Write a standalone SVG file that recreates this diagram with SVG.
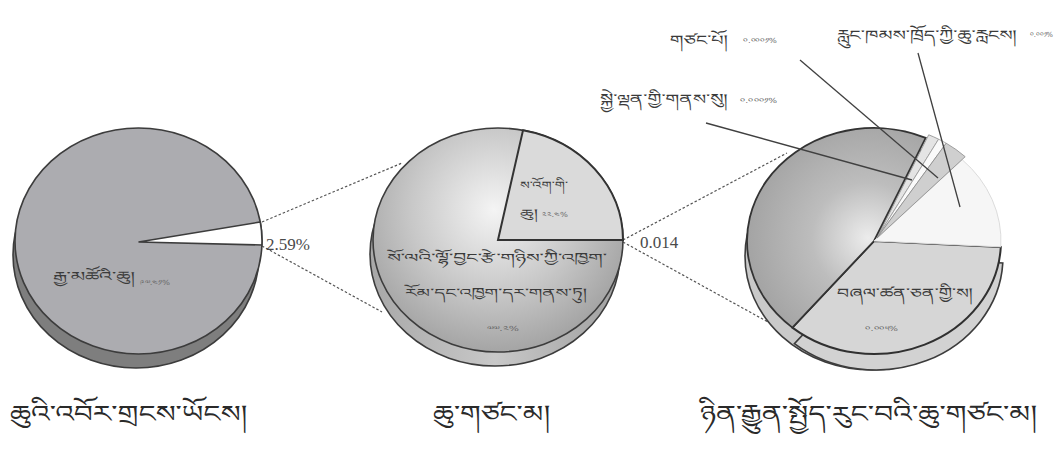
<svg xmlns="http://www.w3.org/2000/svg" width="1061" height="455" viewBox="0 0 1061 455">
<style>
.rim{stroke:#3c3c3c;stroke-width:1.6}
.dot{fill:none;stroke:#555;stroke-width:1.2;stroke-dasharray:2.5 2}
.lead{fill:none;stroke:#404040;stroke-width:1.3}
.tb{font-family:"Noto Sans Tibetan","Noto Serif Tibetan",Jomolhari,"DejaVu Sans","Noto Sans",sans-serif;fill:#3a3a3a}
.num{font-family:"Noto Sans Tibetan","DejaVu Sans","Noto Sans",sans-serif;fill:#666;font-size:7px}
.lat{font-family:"Liberation Serif","Times New Roman",serif;fill:#4a4a4a;font-size:17px}
.cap{font-family:"Noto Sans Tibetan","Noto Serif Tibetan",Jomolhari,"DejaVu Sans","Noto Sans",sans-serif;fill:#2a2a2a;font-size:24px}
</style>
<defs>
<radialGradient id="gMid" gradientUnits="userSpaceOnUse" cx="494" cy="210" r="150">
<stop offset="0" stop-color="#f4f4f4"/>
<stop offset="0.55" stop-color="#c8c8c8"/>
<stop offset="1" stop-color="#a0a0a0"/>
</radialGradient>
<radialGradient id="gDark" gradientUnits="userSpaceOnUse" cx="868" cy="238" r="140">
<stop offset="0" stop-color="#ececec"/>
<stop offset="0.4" stop-color="#bdbdbd"/>
<stop offset="1" stop-color="#9c9c9c"/>
</radialGradient>
<linearGradient id="gSide" x1="0" y1="0" x2="1" y2="0">
<stop offset="0" stop-color="#a8a8a8"/>
<stop offset="0.5" stop-color="#c8c8c8"/>
<stop offset="1" stop-color="#a0a0a0"/>
</linearGradient>
</defs>
<rect width="1061" height="455" fill="#fff"/>

<g id="connectors">
<line class="dot" x1="262" y1="222" x2="402" y2="163"/>
<line class="dot" x1="262" y1="246" x2="382" y2="312"/>
<line class="dot" x1="623" y1="240" x2="787" y2="153"/>
<line class="dot" x1="623" y1="242" x2="768" y2="322"/>
</g>

<g id="pie-total">
<ellipse class="rim" cx="136" cy="255" rx="123" ry="113" fill="#7e7e7e"/>
<ellipse class="rim" cx="138.5" cy="241" rx="123.5" ry="113" fill="#acacb0"/>
<path class="rim" d="M138.5,242 L260.3,222 A123.5,113 0 0 1 261.9,245 Z" fill="#fff"/>
<text class="tb" x="53" y="281" font-size="13" textLength="82" lengthAdjust="spacingAndGlyphs">རྒྱ་མཚོའི་ཆུ།</text>
<text class="num" x="140" y="285" textLength="30" lengthAdjust="spacingAndGlyphs">༩༧.༤༡%</text>
<text class="lat" x="266" y="250">2.59%</text>
</g>

<g id="pie-fresh">
<ellipse class="rim" cx="495" cy="254" rx="125" ry="112" fill="url(#gSide)"/>
<ellipse class="rim" cx="498" cy="240" rx="125" ry="112" fill="url(#gMid)"/>
<path d="M498,240 L523,130.3 A125,112 0 0 1 623,240 Z" fill="#dadada" stroke="#333" stroke-width="2"/>
<text class="tb" x="520" y="189" font-size="11" textLength="48" lengthAdjust="spacingAndGlyphs">ས་འོག་གི་</text>
<text class="tb" x="520" y="217" font-size="11" textLength="18" lengthAdjust="spacingAndGlyphs">ཆུ།</text>
<text class="num" x="542" y="217" textLength="26" lengthAdjust="spacingAndGlyphs">༢༢.༤%</text>
<text class="tb" x="387" y="262" font-size="12" textLength="220" lengthAdjust="spacingAndGlyphs">སོ་ལའི་ལྷོ་བྱང་རྩེ་གཉིས་ཀྱི་འཁྱག་</text>
<text class="tb" x="405" y="297" font-size="12" textLength="182" lengthAdjust="spacingAndGlyphs">རོམ་དང་འཁྱག་དར་གནས་ཏུ།</text>
<text class="num" x="487" y="331" textLength="32" lengthAdjust="spacingAndGlyphs">༧༧.༢%</text>
</g>

<text class="lat" x="640" y="248">0.014</text>

<g id="pie-usable">
<ellipse class="rim" cx="872" cy="256" rx="127" ry="114" fill="#c9c9c9"/>
<path class="rim" d="M876,245 L1002.8,250.9 A127,113 0 0 1 794.4,331.6 Z" fill="#d2d2d2" transform="translate(0,12)"/>
<path d="M874,241 L1000.8,246.9 A127,113 0 0 1 792.4,327.6 Z" fill="#d6d6d6" stroke="#303030" stroke-width="2"/>
<path d="M874,241 L792.4,327.6 A127,113 0 0 1 925.7,137.8 Z" fill="url(#gDark)" stroke="#333" stroke-width="1.8"/>
<path d="M874,241 L962.2,159.7 A127,113 0 0 1 1000.8,246.9 Z" fill="#f6f6f6" stroke="#dcdcdc" stroke-width="1"/>
<g transform="translate(3,-3)">
<path d="M874,241 L925.7,137.8 A127,113 0 0 1 935.6,142.2 Z" fill="#e4e4e4" stroke="#8a8a8a" stroke-width="0.8"/>
<path d="M874,241 L935.6,142.2 A127,113 0 0 1 943.2,146.2 Z" fill="#fafafa" stroke="#9a9a9a" stroke-width="0.8"/>
<path d="M874,241 L943.2,146.2 A127,113 0 0 1 962.2,159.7 Z" fill="#cfcfcf" stroke="#8a8a8a" stroke-width="0.8"/>
</g>
<text class="tb" x="837" y="298" font-size="14" textLength="136" lengthAdjust="spacingAndGlyphs">བཞལ་ཚན་ཅན་གྱི་ས།</text>
<text class="num" x="865" y="331" textLength="33" lengthAdjust="spacingAndGlyphs">༠.༠༠༥%</text>
</g>

<g id="leaders">
<line class="lead" x1="706" y1="123" x2="912" y2="180"/>
<line class="lead" x1="800" y1="60" x2="938" y2="178"/>
<line class="lead" x1="918" y1="53" x2="960" y2="207"/>
</g>

<g id="label-river">
<text class="tb" x="670" y="45" font-size="14" textLength="58" lengthAdjust="spacingAndGlyphs">གཙང་པོ།</text>
<text class="num" x="743" y="43" textLength="34" lengthAdjust="spacingAndGlyphs">༠.༠༠༠༡%</text>
</g>
<g id="label-vapour">
<text class="tb" x="837" y="40" font-size="14" textLength="180" lengthAdjust="spacingAndGlyphs">རླུང་ཁམས་ཁྲོད་ཀྱི་ཆུ་རླངས།</text>
<text class="num" x="1030" y="37" textLength="23" lengthAdjust="spacingAndGlyphs">༠.༠༠༡%</text>
</g>
<g id="label-life">
<text class="tb" x="600" y="104" font-size="14" textLength="128" lengthAdjust="spacingAndGlyphs">སྐྱེ་ལྡན་གྱི་གནས་སུ།</text>
<text class="num" x="740" y="103" textLength="37" lengthAdjust="spacingAndGlyphs">༠.༠༠༠༡%</text>
</g>

<g id="captions">
<text class="cap" x="10" y="422" textLength="237" lengthAdjust="spacingAndGlyphs">ཆུའི་འབོར་གྲངས་ཡོངས།</text>
<text class="cap" x="433" y="422" textLength="117" lengthAdjust="spacingAndGlyphs">ཆུ་གཙང་མ།</text>
<text class="cap" x="700" y="422" textLength="337" lengthAdjust="spacingAndGlyphs">ཉིན་རྒྱུན་སྤྱོད་རུང་བའི་ཆུ་གཙང་མ།</text>
</g>
</svg>
